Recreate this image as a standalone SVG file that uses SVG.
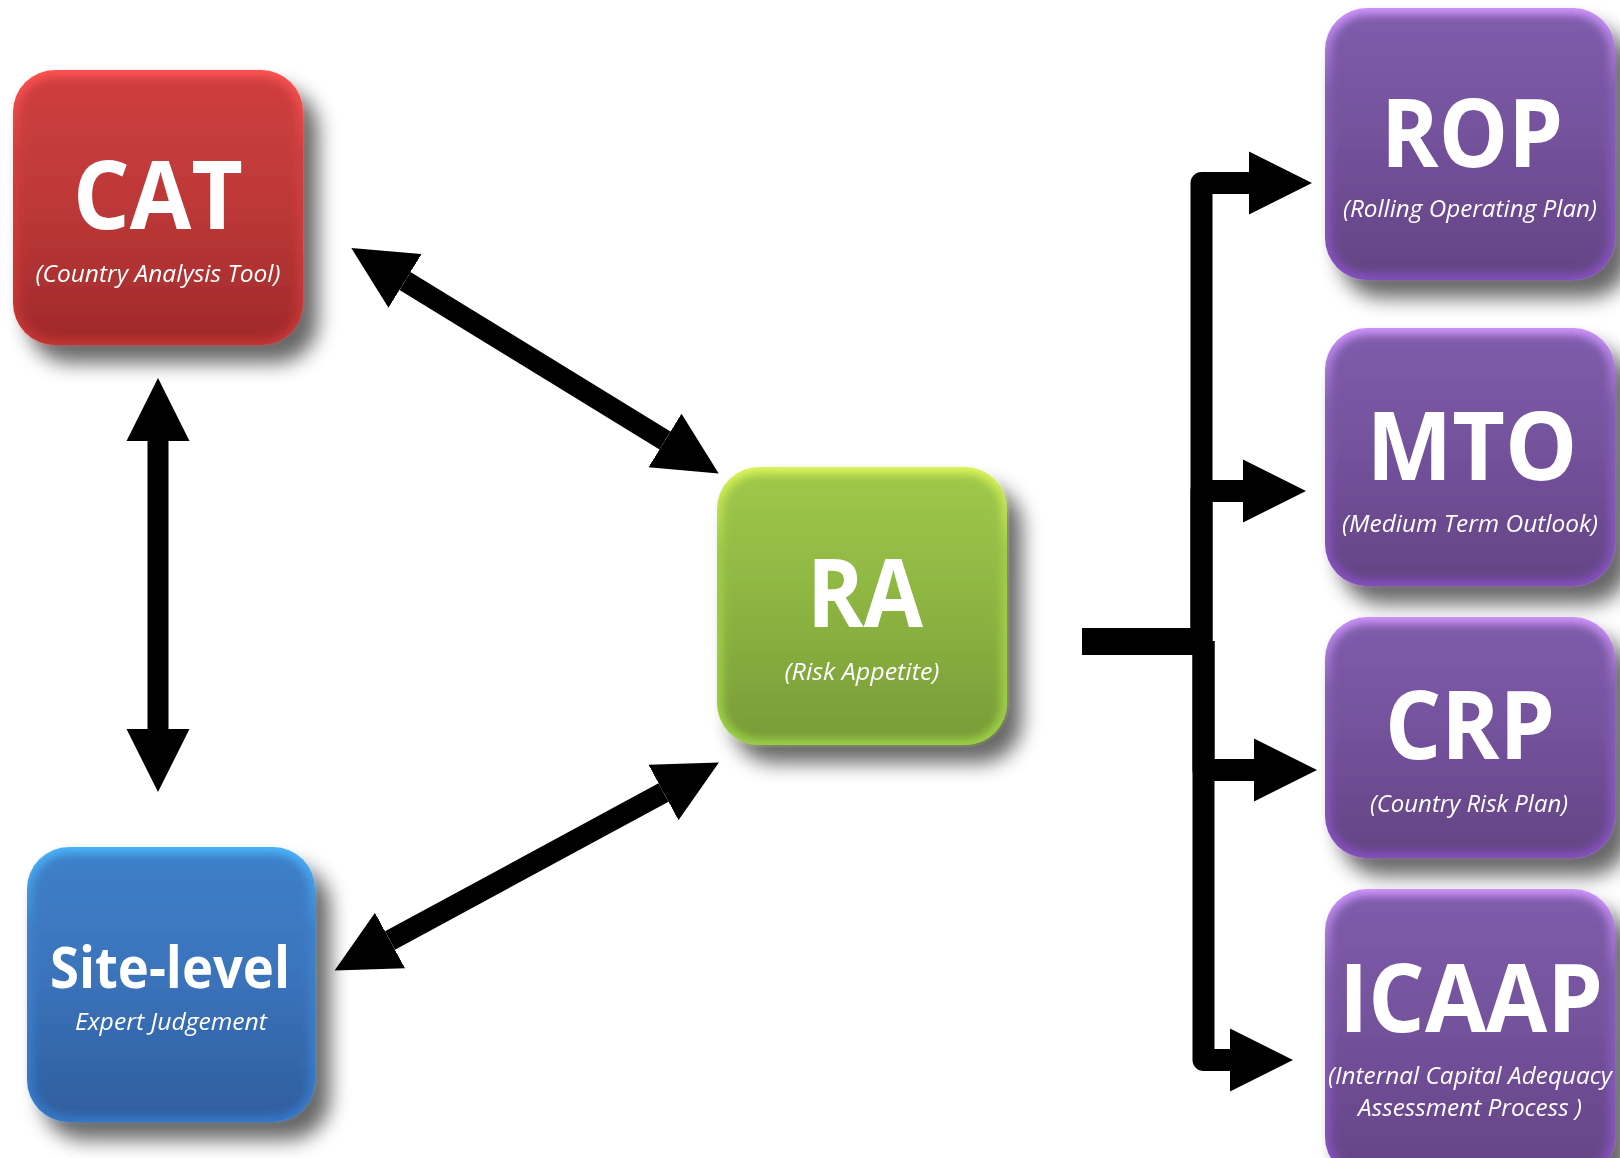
<svg xmlns="http://www.w3.org/2000/svg" width="1620" height="1158" viewBox="0 0 1620 1158">
<style>
.t{font-family:"Open Sans","Liberation Sans",sans-serif;font-weight:700;fill:#fff;text-anchor:middle;font-size:95px}
.s{font-family:"Open Sans","Liberation Sans",sans-serif;font-style:italic;fill:#fff;text-anchor:middle;font-size:23px}
.c{fill:none;stroke:#000;stroke-linejoin:round}
</style>
<defs>
<filter id="shadow" x="-20%" y="-20%" width="150%" height="150%">
<feGaussianBlur in="SourceAlpha" stdDeviation="10"/>
<feOffset dx="15" dy="18" result="b"/>
<feComponentTransfer><feFuncA type="linear" slope="0.6"/></feComponentTransfer>
<feMerge><feMergeNode/><feMergeNode in="SourceGraphic"/></feMerge>
</filter>
<filter id="soft" x="-10%" y="-10%" width="120%" height="120%"><feGaussianBlur stdDeviation="4"/></filter>
<linearGradient id="redE" x1="0" y1="0" x2="0" y2="1"><stop offset="0" stop-color="#ff5252"/><stop offset="0.3" stop-color="#d24040"/><stop offset="1" stop-color="#c33333"/></linearGradient>
<linearGradient id="redF" x1="0" y1="0" x2="0" y2="1"><stop offset="0" stop-color="#cf3f3f"/><stop offset="0.5" stop-color="#bd3838"/><stop offset="1" stop-color="#a12a2b"/></linearGradient>
<linearGradient id="bluE" x1="0" y1="0" x2="0" y2="1"><stop offset="0" stop-color="#4ab4fa"/><stop offset="0.3" stop-color="#3e82cc"/><stop offset="1" stop-color="#3677c9"/></linearGradient>
<linearGradient id="bluF" x1="0" y1="0" x2="0" y2="1"><stop offset="0" stop-color="#3e80c9"/><stop offset="0.5" stop-color="#3a72b9"/><stop offset="1" stop-color="#2f5f9f"/></linearGradient>
<linearGradient id="grnE" x1="0" y1="0" x2="0" y2="1"><stop offset="0" stop-color="#dcf55a"/><stop offset="0.3" stop-color="#a2cc4a"/><stop offset="1" stop-color="#9cd045"/></linearGradient>
<linearGradient id="grnF" x1="0" y1="0" x2="0" y2="1"><stop offset="0" stop-color="#9fc84b"/><stop offset="0.5" stop-color="#8db442"/><stop offset="1" stop-color="#799c38"/></linearGradient>
<linearGradient id="purE" x1="0" y1="0" x2="0" y2="1"><stop offset="0" stop-color="#cf95fb"/><stop offset="0.3" stop-color="#8660b5"/><stop offset="1" stop-color="#8550c0"/></linearGradient>
<linearGradient id="purF" x1="0" y1="0" x2="0" y2="1"><stop offset="0" stop-color="#7f5cab"/><stop offset="0.5" stop-color="#73519b"/><stop offset="1" stop-color="#654485"/></linearGradient>
<marker id="head" markerUnits="userSpaceOnUse" viewBox="0 -32 64 64" markerWidth="64" markerHeight="64" refX="0" refY="0" orient="auto-start-reverse">
<path d="M0,-31.5 L63,0 L0,31.5 Z" fill="#000"/>
</marker>
</defs>
<rect width="1620" height="1158" fill="#fff"/>

<g id="connectors">
<line class="c" x1="158" y1="441" x2="158" y2="729" stroke-width="21" marker-start="url(#head)" marker-end="url(#head)"/>
<line class="c" x1="405" y1="281" x2="665" y2="440.5" stroke-width="21" marker-start="url(#head)" marker-end="url(#head)"/>
<line class="c" x1="390" y1="940.5" x2="663.5" y2="792.5" stroke-width="21" marker-start="url(#head)" marker-end="url(#head)"/>
<path class="c" d="M1082,641.5 H1203" stroke-width="27"/>
<path class="c" d="M1201.5,641 V183 H1249" stroke-width="22" marker-end="url(#head)"/>
<path class="c" d="M1201.5,641 V491 H1243" stroke-width="22" marker-end="url(#head)"/>
<path class="c" d="M1203.5,641 V770 H1254" stroke-width="22" marker-end="url(#head)"/>
<path class="c" d="M1203.5,641 V1060 H1230" stroke-width="22" marker-end="url(#head)"/>
</g>

<g id="cat" filter="url(#shadow)">
<rect x="13" y="70" width="290" height="275" rx="42" fill="url(#redE)"/>
<rect x="19" y="77" width="278" height="262" rx="36" fill="url(#redF)" filter="url(#soft)"/>
<text class="t" x="158" y="229" textLength="170" lengthAdjust="spacingAndGlyphs">CAT</text>
<text class="s" x="158" y="282" textLength="245" lengthAdjust="spacingAndGlyphs">(Country Analysis Tool)</text>
</g>

<g id="site" filter="url(#shadow)">
<rect x="27" y="847" width="288" height="275" rx="42" fill="url(#bluE)"/>
<rect x="33" y="854" width="276" height="262" rx="36" fill="url(#bluF)" filter="url(#soft)"/>
<text class="t" x="170" y="988" style="font-size:57px" textLength="240" lengthAdjust="spacingAndGlyphs">Site-level</text>
<text class="s" x="171" y="1030" textLength="192" lengthAdjust="spacingAndGlyphs">Expert Judgement</text>
</g>

<g id="ra" filter="url(#shadow)">
<rect x="717" y="467" width="290" height="278" rx="42" fill="url(#grnE)"/>
<rect x="723" y="474" width="278" height="265" rx="36" fill="url(#grnF)" filter="url(#soft)"/>
<text class="t" x="865" y="627" textLength="116" lengthAdjust="spacingAndGlyphs">RA</text>
<text class="s" x="862" y="680" textLength="155" lengthAdjust="spacingAndGlyphs">(Risk Appetite)</text>
</g>

<g id="rop" filter="url(#shadow)">
<rect x="1325" y="8" width="290" height="272" rx="42" fill="url(#purE)"/>
<rect x="1331" y="15" width="278" height="259" rx="36" fill="url(#purF)" filter="url(#soft)"/>
<text class="t" x="1472" y="167" textLength="182" lengthAdjust="spacingAndGlyphs">ROP</text>
<text class="s" x="1470" y="217" textLength="254" lengthAdjust="spacingAndGlyphs">(Rolling Operating Plan)</text>
</g>

<g id="mto" filter="url(#shadow)">
<rect x="1325" y="328" width="290" height="258" rx="42" fill="url(#purE)"/>
<rect x="1331" y="335" width="278" height="245" rx="36" fill="url(#purF)" filter="url(#soft)"/>
<text class="t" x="1472" y="480" textLength="211" lengthAdjust="spacingAndGlyphs">MTO</text>
<text class="s" x="1470" y="532" textLength="256" lengthAdjust="spacingAndGlyphs">(Medium Term Outlook)</text>
</g>

<g id="crp" filter="url(#shadow)">
<rect x="1325" y="617" width="290" height="241" rx="42" fill="url(#purE)"/>
<rect x="1331" y="624" width="278" height="228" rx="36" fill="url(#purF)" filter="url(#soft)"/>
<text class="t" x="1470" y="759" textLength="170" lengthAdjust="spacingAndGlyphs">CRP</text>
<text class="s" x="1469" y="812" textLength="198" lengthAdjust="spacingAndGlyphs">(Country Risk Plan)</text>
</g>

<g id="icaap" filter="url(#shadow)">
<rect x="1325" y="889" width="290" height="290" rx="42" fill="url(#purE)"/>
<rect x="1331" y="896" width="278" height="277" rx="36" fill="url(#purF)" filter="url(#soft)"/>
<text class="t" x="1471" y="1032" textLength="264" lengthAdjust="spacingAndGlyphs">ICAAP</text>
<text class="s" x="1470" y="1084" textLength="284" lengthAdjust="spacingAndGlyphs">(Internal Capital Adequacy</text>
<text class="s" x="1470" y="1116" textLength="224" lengthAdjust="spacingAndGlyphs">Assessment Process )</text>
</g>
</svg>
